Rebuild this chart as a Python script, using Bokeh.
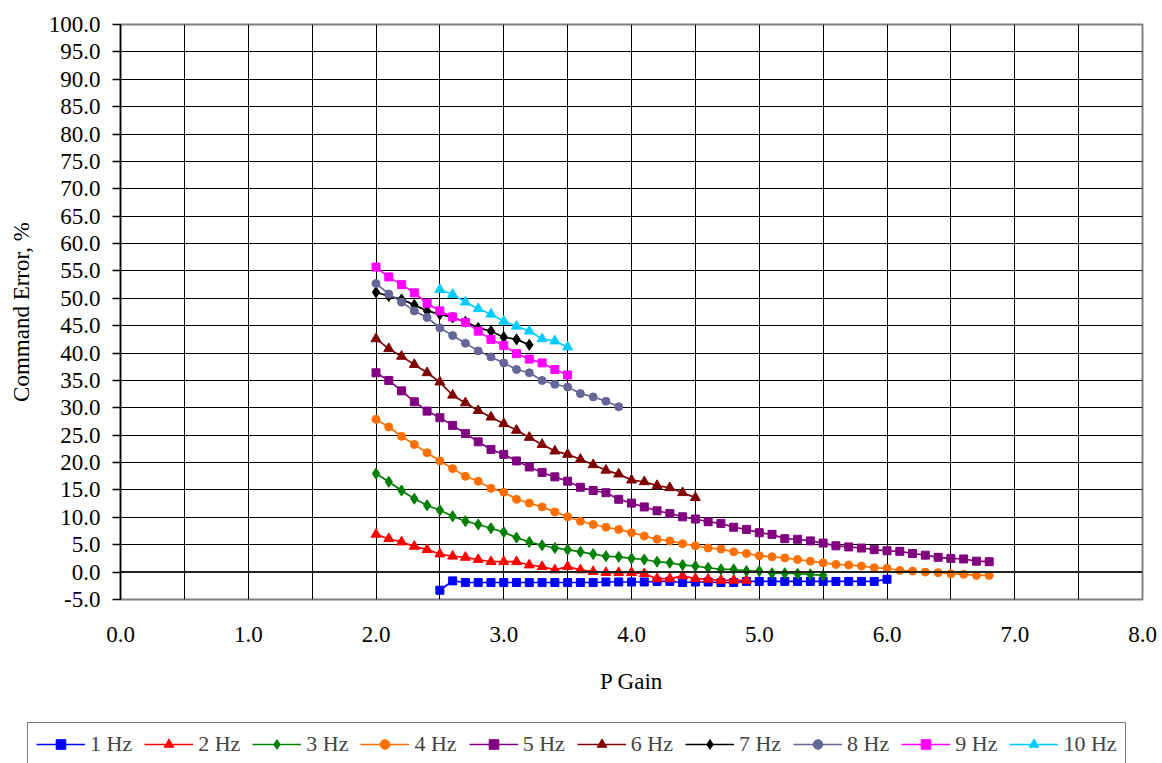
from bokeh.plotting import figure
from bokeh.models import FixedTicker, NumeralTickFormatter, Span, Legend, LegendItem, Range1d
from bokeh.embed import file_html
from bokeh.resources import INLINE

# P Gain values (shared x values for all series)
p_gain = [2.0, 2.1, 2.2, 2.3, 2.4, 2.5, 2.6, 2.7, 2.8, 2.9,
          3.0, 3.1, 3.2, 3.3, 3.4, 3.5, 3.6, 3.7, 3.8, 3.9,
          4.0, 4.1, 4.2, 4.3, 4.4, 4.5, 4.6, 4.7, 4.8, 4.9,
          5.0, 5.1, 5.2, 5.3, 5.4, 5.5, 5.6, 5.7, 5.8, 5.9,
          6.0, 6.1, 6.2, 6.3, 6.4, 6.5, 6.6, 6.7, 6.8]

labels = ["1 Hz", "2 Hz", "3 Hz", "4 Hz", "5 Hz", "6 Hz", "7 Hz", "8 Hz", "9 Hz", "10 Hz"]
start_gain = [2.5, 2.0, 2.0, 2.0, 2.0, 2.0, 2.0, 2.0, 2.0, 2.5]

hz1 = [-3.3, -1.6, -1.9, -1.9, -1.9, -1.9, -1.9, -1.9, -1.9, -1.9,
       -1.9, -1.9, -1.9, -1.8, -1.8, -1.8, -1.8, -1.7, -1.7, -1.9,
       -1.8, -1.8, -1.9, -1.9, -1.7, -1.7, -1.7, -1.7, -1.7, -1.7,
       -1.7, -1.7, -1.7, -1.7, -1.7, -1.3]
hz2 = [6.9, 6.1, 5.5, 4.7, 4.1, 3.3, 2.9, 2.7, 2.3, 1.9,
       1.9, 1.9, 1.3, 1.0, 0.4, 1.0, 0.4, 0.1, -0.1, -0.1,
       -0.1, -0.3, -1.2, -1.2, -0.7, -1.2, -1.3, -1.5, -1.5, -1.5]
hz3 = [18.0, 16.5, 14.9, 13.4, 12.2, 11.3, 10.2, 9.3, 8.7, 8.0,
       7.3, 6.3, 5.5, 4.9, 4.4, 4.1, 3.7, 3.3, 2.9, 2.8,
       2.5, 2.3, 1.9, 1.7, 1.3, 1.1, 0.8, 0.5, 0.5, 0.2,
       0.2, -0.2, -0.2, -0.3, -0.4, -0.6]
hz4 = [27.9, 26.5, 24.8, 23.3, 21.8, 20.3, 18.9, 17.5, 16.6, 15.3,
       14.6, 13.3, 12.6, 11.9, 11.0, 10.1, 9.3, 8.7, 8.2, 7.8,
       7.2, 6.6, 6.0, 5.7, 5.2, 4.8, 4.4, 4.2, 3.7, 3.4,
       3.0, 2.8, 2.6, 2.3, 2.0, 1.7, 1.4, 1.3, 1.1, 0.8,
       0.7, 0.3, 0.2, 0.0, -0.1, -0.3, -0.4, -0.6, -0.6]
hz5 = [36.4, 35.0, 33.1, 31.1, 29.4, 28.2, 26.8, 25.3, 23.8, 22.4,
       21.5, 20.3, 19.2, 18.2, 17.4, 16.6, 15.5, 14.9, 14.5, 13.3,
       12.6, 11.9, 11.2, 10.7, 10.1, 9.7, 9.2, 8.9, 8.2, 7.8,
       7.2, 6.9, 6.1, 6.0, 5.7, 5.3, 4.8, 4.6, 4.4, 4.1,
       3.9, 3.8, 3.4, 3.1, 2.7, 2.5, 2.4, 2.0, 1.9]
hz6 = [42.6, 40.8, 39.4, 37.9, 36.4, 34.7, 32.3, 30.9, 29.5, 28.3,
       27.1, 25.9, 24.6, 23.3, 22.1, 21.5, 20.6, 19.6, 18.6, 17.9,
       16.8, 16.5, 15.8, 15.4, 14.5, 13.6]
hz7 = [51.1, 50.4, 49.8, 48.8, 47.7, 47.1, 46.5, 45.7, 44.6, 44.0,
       42.9, 42.5, 41.5]
hz8 = [52.7, 50.8, 49.3, 47.7, 46.5, 44.6, 43.2, 41.8, 40.4, 39.3,
       38.2, 37.0, 36.4, 35.0, 34.3, 33.8, 32.6, 32.0, 31.2, 30.2]
hz9 = [55.7, 53.9, 52.5, 51.0, 49.1, 47.7, 46.6, 45.6, 44.0, 42.5,
       41.4, 39.9, 38.9, 38.2, 37.0, 36.0]
hz10 = [51.6, 50.7, 49.3, 48.1, 47.1, 45.8, 44.9, 44.0, 42.6, 42.2, 41.1]

values = [hz1, hz2, hz3, hz4, hz5, hz6, hz7, hz8, hz9, hz10]

colors = ["#0000FF", "#FF0000", "#008000", "#FF6F00", "#800080",
          "#800000", "#000000", "#666699", "#FF00FF", "#00CCFF"]
markers = ["square", "triangle", "diamond", "circle", "square",
           "triangle", "diamond", "circle", "square", "triangle"]
msizes = [8, 10, 11, 8, 8, 10, 11, 8, 8, 10]
leg_sizes = [8, 10, 9, 7, 7, 10, 9, 7, 8, 10]

y_ticks = [-5, 0, 5, 10, 15, 20, 25, 30, 35, 40, 45, 50, 55, 60, 65, 70, 75, 80, 85, 90, 95, 100]
x_ticks = [0, 1, 2, 3, 4, 5, 6, 7, 8]

FONT = "Liberation Serif"

p = figure(width=1162, height=710, x_range=Range1d(0, 8), y_range=Range1d(-5, 100),
           output_backend="svg", toolbar_location=None,
           min_border_left=120, min_border_right=20, min_border_top=24, min_border_bottom=111)

p.outline_line_color = "#808080"
p.outline_line_width = 2

# grids
p.xgrid.ticker = FixedTicker(ticks=[0.5, 1, 1.5, 2, 2.5, 3, 3.5, 4, 4.5, 5, 5.5, 6, 6.5, 7, 7.5])
p.ygrid.ticker = FixedTicker(ticks=y_ticks[2:-1])
for g in (p.xgrid, p.ygrid):
    g.grid_line_color = "black"
    g.grid_line_alpha = 1.0
    g.grid_line_width = 1

# y axis
ya = p.yaxis[0]
ya.ticker = FixedTicker(ticks=y_ticks)
ya.formatter = NumeralTickFormatter(format="0.0")
ya.major_tick_out = 8
ya.major_tick_in = 0
ya.minor_tick_out = 0
ya.minor_tick_in = 0
ya.axis_line_color = "black"
ya.axis_line_width = 1.5
ya.major_tick_line_color = "black"
ya.major_tick_line_width = 1.5
ya.major_label_standoff = 12
ya.major_label_text_font = FONT
ya.major_label_text_font_size = "23px"
ya.major_label_text_color = "black"
ya.axis_label = "Command Error, %"
ya.axis_label_text_font = FONT
ya.axis_label_text_font_size = "23px"
ya.axis_label_text_font_style = "normal"
ya.axis_label_text_color = "black"
ya.axis_label_standoff = 12

# x axis
xa = p.xaxis[0]
xa.ticker = FixedTicker(ticks=x_ticks)
xa.formatter = NumeralTickFormatter(format="0.0")
xa.major_tick_out = 0
xa.major_tick_in = 0
xa.minor_tick_out = 0
xa.minor_tick_in = 0
xa.axis_line_color = None
xa.major_label_standoff = 27
xa.major_label_text_font = FONT
xa.major_label_text_font_size = "23px"
xa.major_label_text_color = "black"
xa.axis_label = "P Gain"
xa.axis_label_text_font = FONT
xa.axis_label_text_font_size = "23px"
xa.axis_label_text_font_style = "normal"
xa.axis_label_text_color = "black"
xa.axis_label_standoff = 24

# zero line (category axis crossing)
p.add_layout(Span(location=0, dimension="width", line_color="#222222", line_width=2))

for st, vals, c, m, s in zip(start_gain, values, colors, markers, msizes):
    i0 = p_gain.index(st)
    xs = p_gain[i0:i0 + len(vals)]
    p.line(xs, vals, line_color=c, line_width=1.7)
    p.scatter(xs, vals, marker=m, size=s, fill_color=c, line_color=c)

# legend strip: a separate root figure; its own series glyphs lie outside its view
lf = figure(width=1162, height=53, x_range=Range1d(0, 1), y_range=Range1d(0, 1),
            x_axis_type=None, y_axis_type=None, output_backend="svg", toolbar_location=None,
            min_border=0, min_border_left=0, min_border_right=0, min_border_top=0, min_border_bottom=0)
lf.outline_line_color = None
items = []
for lab, st, vals, c, m, s in zip(labels, start_gain, values, colors, markers, leg_sizes):
    i0 = p_gain.index(st)
    xs = p_gain[i0:i0 + len(vals)]
    lr = lf.line(xs, vals, line_color=c, line_width=1.7)
    sr = lf.scatter(xs, vals, marker=m, size=s, fill_color=c, line_color=c)
    items.append(LegendItem(label=lab, renderers=[lr, sr]))

legend = Legend(items=items, orientation="horizontal", location=(27, -3),
                border_line_color="black", border_line_width=1.5,
                label_text_font=FONT, label_text_font_size="22px",
                glyph_width=49, glyph_height=24, label_standoff=5,
                spacing=12, padding=8, margin=0, background_fill_alpha=1.0)
lf.add_layout(legend, "center")

open("out.html", "w").write(file_html([p, lf], INLINE))
